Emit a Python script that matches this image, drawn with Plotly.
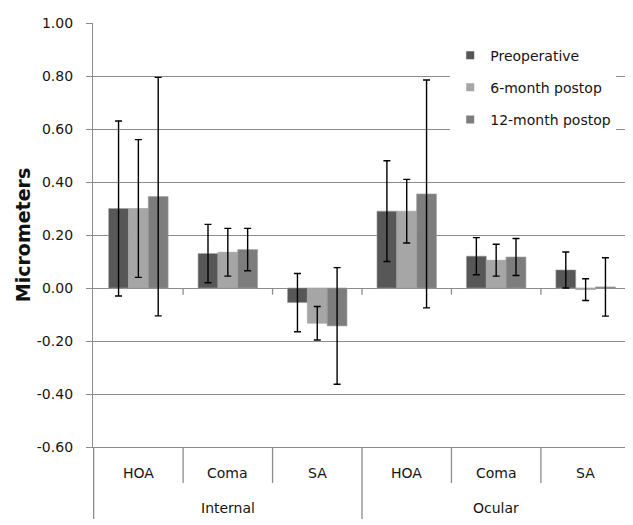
import plotly.graph_objects as go

groups = ["Internal", "Internal", "Internal", "Ocular", "Ocular", "Ocular"]
measures = ["HOA", "Coma", "SA", "HOA", "Coma", "SA"]

series_names = ["Preoperative", "6-month postop", "12-month postop"]
series_colors = ["#575757", "#a6a6a6", "#7d7d7d"]

pre_vals = [0.30, 0.13, -0.055, 0.29, 0.12, 0.068]
pre_err = [0.33, 0.11, 0.11, 0.19, 0.07, 0.068]
m6_vals = [0.30, 0.135, -0.133, 0.29, 0.105, -0.006]
m6_err = [0.26, 0.09, 0.063, 0.12, 0.06, 0.041]
m12_vals = [0.345, 0.145, -0.143, 0.355, 0.117, 0.004]
m12_err = [0.45, 0.08, 0.22, 0.43, 0.07, 0.11]

values = [pre_vals, m6_vals, m12_vals]
errors = [pre_err, m6_err, m12_err]

y_ticks = [-0.6, -0.4, -0.2, 0.0, 0.2, 0.4, 0.6, 0.8, 1.0]
y_ticktext = [f"{v:.2f}" for v in y_ticks]

FONT = "DejaVu Sans"
GRID = "#8c8c8c"
TXT = "#151515"
W, H = 625, 517
M_L, M_R, M_T, M_B = 85, 2, 15, 78
PLOT_H = H - M_T - M_B

fig = go.Figure()
for name, col, v, e in zip(series_names, series_colors, values, errors):
    fig.add_trace(go.Bar(
        x=[groups, measures], y=v, name=name,
        marker=dict(color=col, line=dict(color="#a0a0a0", width=0.6)),
        error_y=dict(type="data", array=e, visible=True, color="black",
                     thickness=1.4, width=3.5),
        showlegend=False,
    ))
# legend entries with small square markers
for i, (name, col) in enumerate(zip(series_names, series_colors)):
    fig.add_trace(go.Scatter(
        x=[None], y=[None], mode="markers", name=name,
        marker=dict(symbol="square", size=8, color=col),
        legendgroup=f"g{i}", showlegend=True,
    ))

n = len(measures)
# category separators below the axis (inner short, outer long at group edges)
for i in range(n + 1):
    is_group_edge = i == 0 or i == n or groups[i] != groups[i - 1]
    depth = 72 if is_group_edge else 36
    fig.add_shape(type="line", xref="x", yref="paper",
                  x0=i - 0.5, x1=i - 0.5, y0=0, y1=-depth / PLOT_H,
                  line=dict(color=GRID, width=1.3))
# small ticks on the zero line at category boundaries
for i in range(1, n + 1):
    fig.add_shape(type="line", xref="x", yref="y",
                  x0=i - 0.5, x1=i - 0.5, y0=0, y1=-0.025,
                  line=dict(color=GRID, width=1.3))

# category labels
for i, m in enumerate(measures):
    fig.add_annotation(x=i, y=-26 / PLOT_H, xref="x", yref="paper",
                       text=m, showarrow=False, yanchor="middle",
                       font=dict(family=FONT, size=14, color=TXT))
for g in dict.fromkeys(groups):
    idx = [i for i, gg in enumerate(groups) if gg == g]
    fig.add_annotation(x=sum(idx) / len(idx), y=-61 / PLOT_H, xref="x", yref="paper",
                       text=g, showarrow=False, yanchor="middle",
                       font=dict(family=FONT, size=14, color=TXT))

fig.update_layout(
    width=W, height=H,
    margin=dict(l=M_L, r=M_R, t=M_T, b=M_B),
    paper_bgcolor="white", plot_bgcolor="white",
    barmode="group", bargap=0.335, bargroupgap=0,
    font=dict(family=FONT, size=14, color=TXT),
    legend=dict(x=0.664, y=0.961, xanchor="left", yanchor="top",
                bgcolor="white", font=dict(family=FONT, size=14, color=TXT),
                tracegroupgap=11, itemwidth=30),
    showlegend=True,
)
fig.update_yaxes(
    range=[-0.6, 1.0], tickvals=y_ticks, ticktext=y_ticktext,
    showgrid=True, gridcolor=GRID, gridwidth=1.3,
    zeroline=True, zerolinecolor=GRID, zerolinewidth=1.3,
    showline=True, linecolor=GRID, linewidth=1.3,
    ticks="outside", ticklen=6, tickcolor=GRID, tickwidth=1.3,
    tickfont=dict(family=FONT, size=14, color=TXT), ticklabelstandoff=10,
    title=dict(text="<b>Micrometers</b>", font=dict(family=FONT, size=19, color="#111"), standoff=1),
    automargin=False,
)
fig.update_xaxes(
    type="multicategory", showline=True, linecolor=GRID, linewidth=1.3,
    ticks="", showticklabels=False, showdividers=False,
    automargin=False,
)

fig.write_html("out.html")
